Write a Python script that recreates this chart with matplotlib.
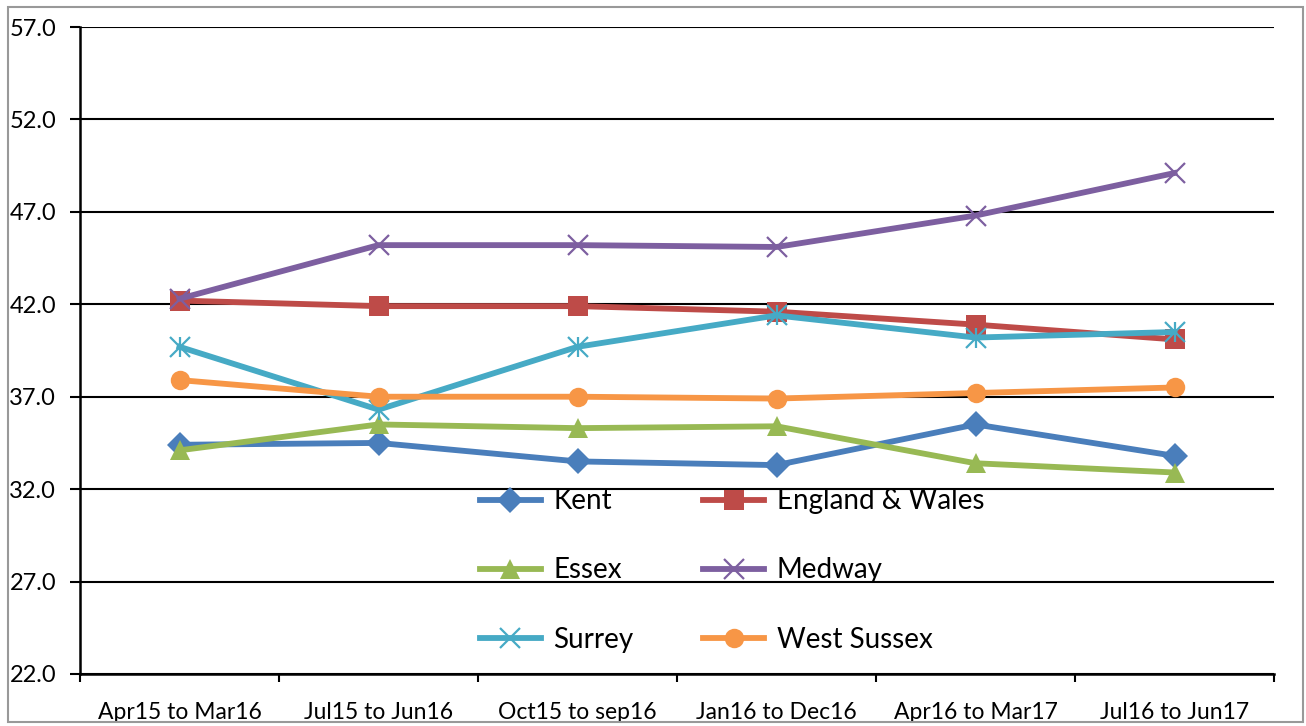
import matplotlib
matplotlib.use("Agg")
import matplotlib.pyplot as plt
from matplotlib.patches import Rectangle
import numpy as np

periods = ["Apr15 to Mar16", "Jul15 to Jun16", "Oct15 to sep16",
           "Jan16 to Dec16", "Apr16 to Mar17", "Jul16 to Jun17"]

kent = [34.4, 34.5, 33.5, 33.3, 35.5, 33.8]
england_wales = [42.2, 41.9, 41.9, 41.6, 40.9, 40.1]
essex = [34.1, 35.5, 35.3, 35.4, 33.4, 32.9]
medway = [42.3, 45.2, 45.2, 45.1, 46.8, 49.1]
surrey = [39.7, 36.3, 39.7, 41.4, 40.2, 40.5]
west_sussex = [37.9, 37.0, 37.0, 36.9, 37.2, 37.5]

series = [
    ("Kent", kent, "#4a7ebb", "D", 13),
    ("England & Wales", england_wales, "#be4b48", "s", 14),
    ("Essex", essex, "#98b954", "^", 15),
    ("Medway", medway, "#7d5fa0", "x", 14),
    ("Surrey", surrey, "#46aac5", "x", 14),
    ("West Sussex", west_sussex, "#f79646", "o", 14),
]

fig = plt.figure(figsize=(13.06, 7.26), dpi=100)
ax = fig.add_axes([80 / 1306, 1 - 674 / 726, 1194 / 1306, 647 / 726])

x = np.arange(len(periods))
handles = {}
for name, vals, color, marker, ms in series:
    if name == "Surrey":
        # asterisk style marker: x plus a vertical bar
        h, = ax.plot(x, vals, color=color, lw=4.2, marker="x", ms=ms, mew=1.6,
                     label=name, zorder=3)
        ax.plot(x, vals, ls="none", color=color, marker="|", ms=ms, mew=1.6,
                zorder=3)
    elif marker == "x":
        h, = ax.plot(x, vals, color=color, lw=4.2, marker=marker, ms=ms,
                     mew=1.6, label=name, zorder=3)
    else:
        h, = ax.plot(x, vals, color=color, lw=4.2, marker=marker, ms=ms,
                     mew=0, label=name, zorder=3)
    handles[name] = h

ax.set_xlim(-0.5, len(periods) - 0.5)
ax.set_ylim(22, 57)
yt = np.arange(22, 58, 5)
ax.set_yticks(yt, [f"{v:.1f}" for v in yt])
ax.yaxis.grid(True, color="black", lw=1.5)
ax.set_axisbelow(True)

ax.set_xticks(x, periods)
ax.set_xticks(np.arange(-0.5, len(periods), 1), minor=True)
ax.tick_params(axis="x", which="major", length=0, pad=20, labelsize=16.5)
ax.tick_params(axis="x", which="minor", length=6, width=1.5, direction="out")
ax.tick_params(axis="y", length=7.2, width=1.5, direction="out", pad=10,
               labelsize=17)
for lab in ax.get_xticklabels() + ax.get_yticklabels():
    lab.set_family("Lato")

for side in ("top", "right"):
    ax.spines[side].set_visible(False)
ax.spines["left"].set_linewidth(1.8)
ax.spines["bottom"].set_linewidth(1.8)

# legend fills row by row in the reference
order = ["Kent", "Essex", "Surrey", "England & Wales", "Medway", "West Sussex"]
ax.legend([handles[n] for n in order], order, loc="center",
          bbox_to_anchor=(0.546, 0.16), ncol=2, frameon=False,
          prop={"family": "Lato", "size": 20},
          handlelength=2.2, handletextpad=0.45, columnspacing=2.5,
          labelspacing=1.55)

fig.patches.append(Rectangle((8 / 1306, 4 / 726), 1295 / 1306, 715 / 726,
                             transform=fig.transFigure, fill=False,
                             edgecolor="#999999", lw=1.5))

fig.savefig("out.png", dpi=100)
